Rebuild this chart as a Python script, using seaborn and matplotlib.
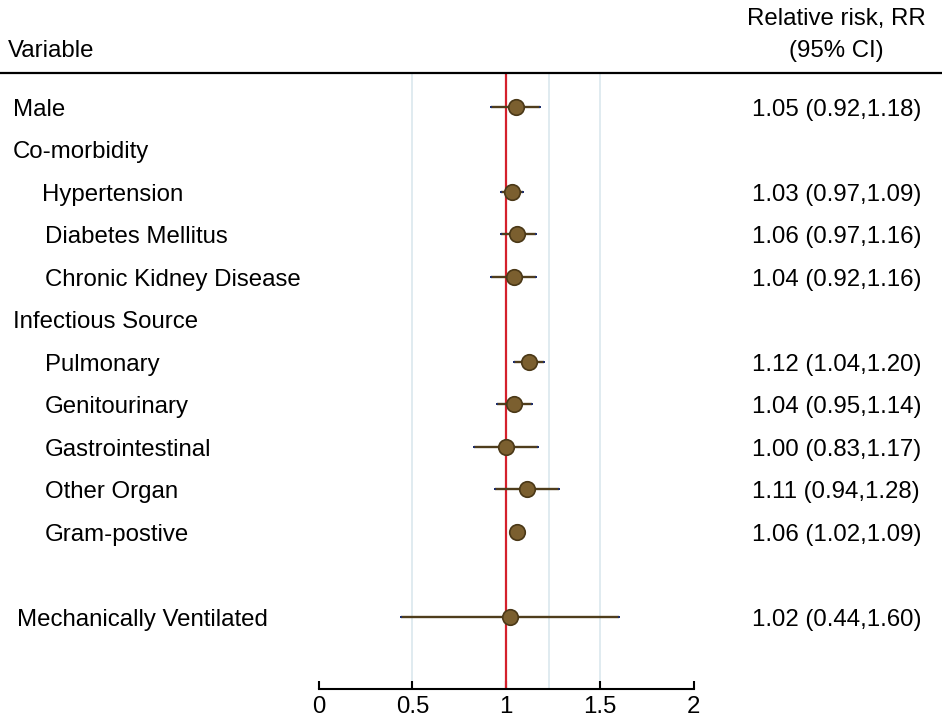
import numpy as np
import pandas as pd
import matplotlib
matplotlib.use("Agg")
import matplotlib.pyplot as plt
import matplotlib.transforms as mtransforms
from matplotlib.lines import Line2D
import seaborn as sns

# Data
labels = ["Male", "Co-morbidity", "Hypertension", "Diabetes Mellitus",
          "Chronic Kidney Disease", "Infectious Source", "Pulmonary",
          "Genitourinary", "Gastrointestinal", "Other Organ", "Gram-postive",
          "Mechanically Ventilated"]
rows = [0, 1, 2, 3, 4, 5, 6, 7, 8, 9, 10, 12]
rr = [1.05, np.nan, 1.03, 1.06, 1.04, np.nan, 1.12, 1.04, 1.00, 1.11, 1.06, 1.02]
ci_low = [0.92, np.nan, 0.97, 0.97, 0.92, np.nan, 1.04, 0.95, 0.83, 0.94, 1.02, 0.44]
ci_high = [1.18, np.nan, 1.09, 1.16, 1.16, np.nan, 1.20, 1.14, 1.17, 1.28, 1.09, 1.60]
ref_lines = [0.5, 1.23, 1.5]
x_ticks = [0, 0.5, 1, 1.5, 2]
x_ticklabels = ["0", "0.5", "1", "1.5", "2"]

df = pd.DataFrame({"label": labels, "row": rows, "rr": rr, "lo": ci_low, "hi": ci_high})
est = df.dropna(subset=["rr"])

sns.set_theme(style="white")
plt.rcParams["font.family"] = ["Liberation Sans", "DejaVu Sans"]
plt.rcParams["text.color"] = "black"
plt.rcParams["xtick.color"] = "black"
fs = 17.3

fig = plt.figure(figsize=(9.42, 7.19), dpi=100)
ax = fig.add_axes([318.7 / 942, 30 / 719, 375 / 942, 616.5 / 719])

# background reference lines
for v in ref_lines:
    ax.axvline(v, color="#dde9ef", lw=1.3, zorder=0)
ax.axvline(1, color="#d4202c", lw=1.6, zorder=1)

# confidence intervals and estimates
ax.hlines(est["row"], est["lo"], est["hi"], color="#4f3d1c", lw=1.7, zorder=2)
ax.scatter(pd.concat([est["lo"], est["hi"]]), pd.concat([est["row"], est["row"]]),
           marker="s", s=3, color="#1f2f6b", zorder=3, linewidths=0)
sns.scatterplot(data=est, x="rr", y="row", ax=ax, s=125, color="#7b5f2f",
                edgecolor="#4a3817", linewidth=1.2, zorder=4, legend=False)

ax.set_xlim(0, 2)
ax.set_ylim(13.70, -0.805)
ax.set_xticks(x_ticks)
ax.set_xticklabels(x_ticklabels, fontsize=fs, color="black")
ax.set_yticks([])
ax.set_xlabel("")
ax.set_ylabel("")
for s in ["left", "right", "top"]:
    ax.spines[s].set_visible(False)
ax.spines["bottom"].set_color("black")
ax.spines["bottom"].set_linewidth(1.5)
ax.tick_params(axis="x", direction="in", length=6, width=1.5, pad=5,
               colors="black", bottom=True)

# row labels and RR text
trans = mtransforms.blended_transform_factory(fig.transFigure, ax.transData)
trans = mtransforms.offset_copy(trans, fig=fig, y=-3, units="dots")
indent = [13, 13, 42, 45, 45, 13, 45, 45, 45, 45, 45, 17]
for lab, r, x0 in zip(labels, rows, indent):
    ax.text(x0 / 942, r, lab, transform=trans, fontsize=fs, va="center",
            ha="left", clip_on=False, color="black")
for _, d in est.iterrows():
    txt = f"{d['rr']:.2f} ({d['lo']:.2f},{d['hi']:.2f})"
    ax.text(752 / 942, d["row"], txt, transform=trans, fontsize=fs,
            va="center", ha="left", clip_on=False, color="black")

# header
fig.text(8 / 942, 1 - 51 / 719, "Variable", fontsize=fs, va="center", ha="left", color="black")
fig.text(836 / 942, 1 - 19 / 719, "Relative risk, RR", fontsize=fs, va="center", ha="center", color="black")
fig.text(836 / 942, 1 - 51 / 719, "(95% CI)", fontsize=fs, va="center", ha="center", color="black")
fig.add_artist(Line2D([0, 1], [1 - 72.5 / 719, 1 - 72.5 / 719],
                      transform=fig.transFigure, color="black", lw=1.6))

fig.savefig("out.png", dpi=100)
